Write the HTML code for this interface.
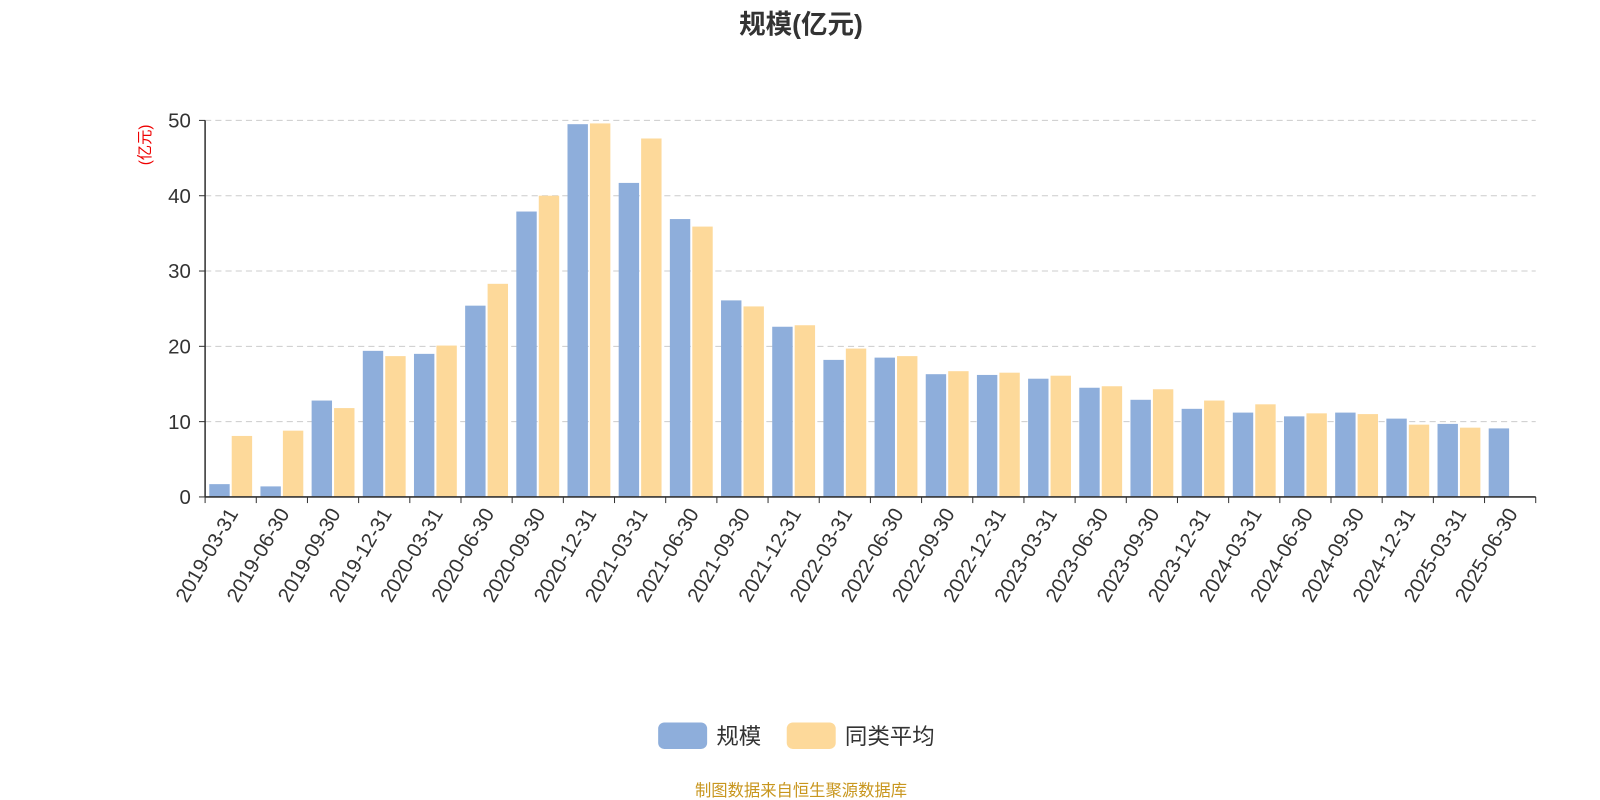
<!DOCTYPE html>
<html><head><meta charset="utf-8">
<style>
body{margin:0;background:#fff;font-family:"Liberation Sans","Noto Sans CJK SC",sans-serif;overflow:hidden;}
</style></head>
<body>
<svg id="chart" width="1600" height="800" viewBox="0 0 1568 784" xmlns="http://www.w3.org/2000/svg" style="display:block;font-family:'Liberation Sans','Noto Sans CJK SC',sans-serif">
<text x="785" y="33" text-anchor="middle" font-size="26" font-weight="bold" fill="#333">规模(亿元)</text>
<text transform="translate(147,142) rotate(-90)" text-anchor="middle" font-size="15" fill="#e00">(亿元)</text>
<g id="grid"></g><g id="bars"></g><g id="axes"></g>
<g>
<rect x="645" y="708" width="48" height="26" rx="6" fill="#8eaedb"/>
<text x="702" y="729" font-size="22" fill="#333">规模</text>
<rect x="771" y="708" width="48" height="26" rx="6" fill="#fdd99a"/>
<text x="828" y="729" font-size="22" fill="#333">同类平均</text>
</g>
<text x="785" y="780" text-anchor="middle" font-size="16" fill="#c8961e">制图数据来自恒生聚源数据库</text>
</svg>
<script>
const categories=["2019-03-31","2019-06-30","2019-09-30","2019-12-31","2020-03-31","2020-06-30","2020-09-30","2020-12-31","2021-03-31","2021-06-30","2021-09-30","2021-12-31","2022-03-31","2022-06-30","2022-09-30","2022-12-31","2023-03-31","2023-06-30","2023-09-30","2023-12-31","2024-03-31","2024-06-30","2024-09-30","2024-12-31","2025-03-31","2025-06-30"];
const scaleValues=[1.7,1.4,12.8,19.4,19.0,25.4,37.9,49.5,41.7,36.9,26.1,22.6,18.2,18.5,16.3,16.2,15.7,14.5,12.9,11.7,11.2,10.7,11.2,10.4,9.7,9.1];
const avgValues=[8.1,8.8,11.8,18.7,20.1,28.3,40.0,49.6,47.6,35.9,25.3,22.8,19.7,18.7,16.7,16.5,16.1,14.7,14.3,12.8,12.3,11.1,11.0,9.6,9.2,null];
const yTicks=[0,10,20,30,40,50];
const NS="http://www.w3.org/2000/svg";
const x0=201,x1=1505,yB=487,yT=118,yMax=50;
const band=(x1-x0)/categories.length;
const yS=v=>yB-(v/yMax)*(yB-yT);
const xS=i=>x0+i*band;
function mk(t,a,p){const e=document.createElementNS(NS,t);for(const k in a)e.setAttribute(k,a[k]);p.appendChild(e);return e;}
const grid=document.getElementById('grid'),bars=document.getElementById('bars'),axes=document.getElementById('axes');
yTicks.forEach(v=>{
 if(v>0){const l=mk('line',{x1:x0,x2:x1,y1:yS(v),y2:yS(v),stroke:'#ccc','stroke-dasharray':'6,4'},grid);
 
 }
 const t=mk('line',{x1:x0-6,x2:x0,y1:yS(v),y2:yS(v),stroke:'#333'},axes);
 
 
 const tx=mk('text',{x:x0-14,y:yS(v)+7,'text-anchor':'end','font-size':'20',fill:'#333'},axes);
 tx.textContent=v;
 
 
});
const bw=20,gap=2;
categories.forEach((c,i)=>{
 const cx=xS(i)+band/2;
 const v1=scaleValues[i],v2=avgValues[i];
 if(v1!=null){const r=mk('rect',{x:cx-bw-gap/2,y:yS(v1),width:bw,height:yB-yS(v1),fill:'#8eaedb'},bars);
 
 }
 if(v2!=null){const r=mk('rect',{x:cx+gap/2,y:yS(v2),width:bw,height:yB-yS(v2),fill:'#fdd99a'},bars);
 
 }
 const t=mk('text',{transform:`translate(${cx+8},${yB+16}) rotate(-60)`,'text-anchor':'end','font-size':'20',fill:'#333'},axes);
 t.textContent=c;
 
 
});
for(let i=0;i<=categories.length;i++){
 const l=mk('line',{x1:xS(i),x2:xS(i),y1:yB,y2:yB+6,stroke:'#333'},axes);
 
 
}
const xa=mk('line',{x1:x0,x2:x1,y1:yB,y2:yB,stroke:'#333','stroke-width':1.5},axes);


const ya=mk('line',{x1:x0,x2:x0,y1:yT,y2:yB,stroke:'#333','stroke-width':1.5},axes);


</script>
</body></html>
